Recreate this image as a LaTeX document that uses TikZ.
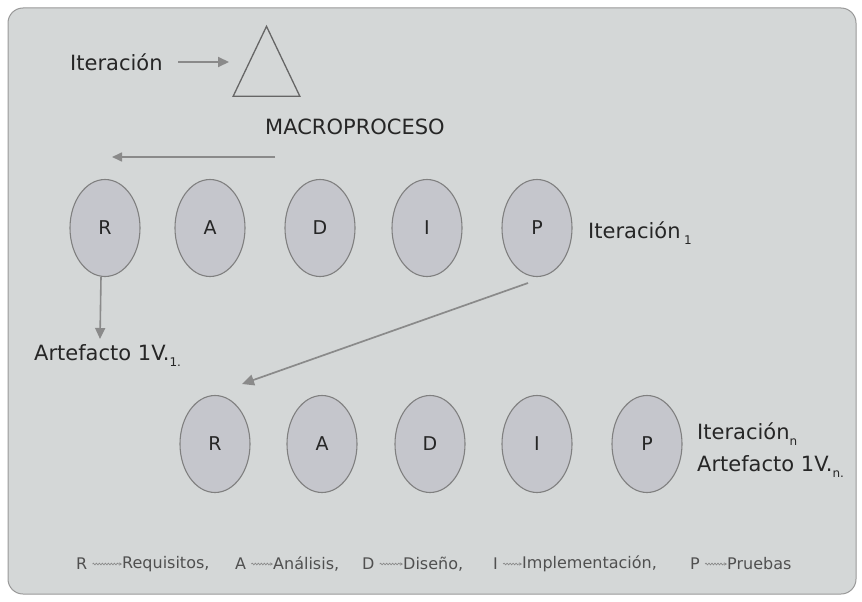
\documentclass[tikz,border=0pt]{standalone}
\usepackage{fontspec}
\setmainfont{DejaVu Sans}
\usetikzlibrary{arrows.meta,decorations.pathmorphing,shapes.geometric}
\definecolor{bgfill}{HTML}{D4D7D7}
\definecolor{elfill}{HTML}{C5C6CC}
\definecolor{elline}{HTML}{808080}
\definecolor{arrcol}{HTML}{8A8A8A}
\definecolor{txt}{HTML}{262626}
\definecolor{legtxt}{HTML}{505050}
\tikzset{
  phase/.style={ellipse, draw=elline, line width=1.1pt, fill=elfill, minimum width=70pt, minimum height=97pt, inner sep=0pt, font=\fontsize{19}{21}\selectfont, text=txt},
  lbl/.style={anchor=west, inner sep=0pt, font=\fontsize{21}{23}\selectfont, text=txt},
  leg/.style={anchor=west, inner sep=0pt, font=\fontsize{16}{18}\selectfont, text=legtxt},
  conn/.style={draw=arrcol, line width=1.8pt, -{Triangle[length=12pt,width=11pt]}},
  legarrow/.style={draw=arrcol, line width=0.7pt, -{Stealth[length=3pt,width=3pt]}, decorate, decoration={snake, amplitude=0.8pt, segment length=3pt, post length=3pt}}
}
\begin{document}
\begin{tikzpicture}[x=1pt,y=-1pt]
\useasboundingbox (0,0) rectangle (862,602);
\fill[white] (0,0) rectangle (862,602);
\draw[draw=gray!80, line width=1pt, fill=bgfill, rounded corners=15pt] (8,8) rectangle (856,594);
% top
\node[lbl] (iter) at (70,62) {Iteración};
\node[draw=black!60, line width=1.3pt, isosceles triangle, isosceles triangle apex angle=51, shape border rotate=90, minimum height=70pt, inner sep=0pt, anchor=south] (tri) at (266.5,97) {};
\coordinate (itS) at (178,62);
\coordinate (triw) at (229,62);
\draw[conn, line width=2pt, -{Triangle[length=11pt,width=10pt]}] (itS) -- (triw);
\node[lbl] (macro) at (265,127) {MACROPROCESO};
\coordinate (la1) at (275,157);
\coordinate (la2) at (112,157);
\draw[conn, line width=1.6pt, -{Triangle[length=10pt,width=9pt]}] (la1) -- (la2);
% row 1
\node[phase] (R1) at (105,228) {R};
\node[phase] (A1) at (210,228) {A};
\node[phase] (D1) at (320,228) {D};
\node[phase] (I1) at (427,228) {I};
\node[phase] (P1) at (537,228) {P};
\node[lbl] (it1) at (588,233) {Iteración\,\raisebox{-6pt}{\fontsize{12}{13}\selectfont 1}};
\node[lbl] (art1) at (34,356) {Artefacto 1V.\raisebox{-6pt}{\fontsize{12}{13}\selectfont 1.}};
\coordinate (artTop) at (100,339);
\draw[conn, line width=1.6pt, -{Triangle[length=11pt,width=10pt]}] (R1.south) ++(-4,0) -- (artTop);
% row 2
\node[phase] (R2) at (215,444) {R};
\node[phase] (A2) at (322,444) {A};
\node[phase] (D2) at (430,444) {D};
\node[phase] (I2) at (537,444) {I};
\node[phase] (P2) at (647,444) {P};
\coordinate (p1out) at (528,283);
\coordinate (r2in) at (242,384);
\draw[conn, line width=1.7pt, -{Triangle[length=12pt,width=11pt]}] (p1out) -- (r2in);
\node[lbl] (itn) at (697,434) {Iteración\raisebox{-6pt}{\fontsize{12}{13}\selectfont n}};
\node[lbl] (artn) at (697,467) {Artefacto 1V.\raisebox{-6pt}{\fontsize{12}{13}\selectfont n.}};
% legend
\node[leg] (lR) at (76,564) {R};
\node[leg] (lReq) at (122,564) {Requisitos,};
\draw[legarrow] (lR.east) ++(5,0) -- (lReq.west);
\node[leg] (lA) at (235,564) {A};
\node[leg] (lAna) at (273,564) {Análisis,};
\draw[legarrow] (lA.east) ++(5,0) -- (lAna.west);
\node[leg] (lD) at (362,564) {D};
\node[leg] (lDis) at (403,564) {Diseño,};
\draw[legarrow] (lD.east) ++(5,0) -- (lDis.west);
\node[leg] (lI) at (493,564) {I};
\node[leg] (lImp) at (522,564) {Implementación,};
\draw[legarrow] (lI.east) ++(5,0) -- (lImp.west);
\node[leg] (lP) at (690,564) {P};
\node[leg] (lPru) at (727,564) {Pruebas};
\draw[legarrow] (lP.east) ++(5,0) -- (lPru.west);
\end{tikzpicture}
\end{document}
